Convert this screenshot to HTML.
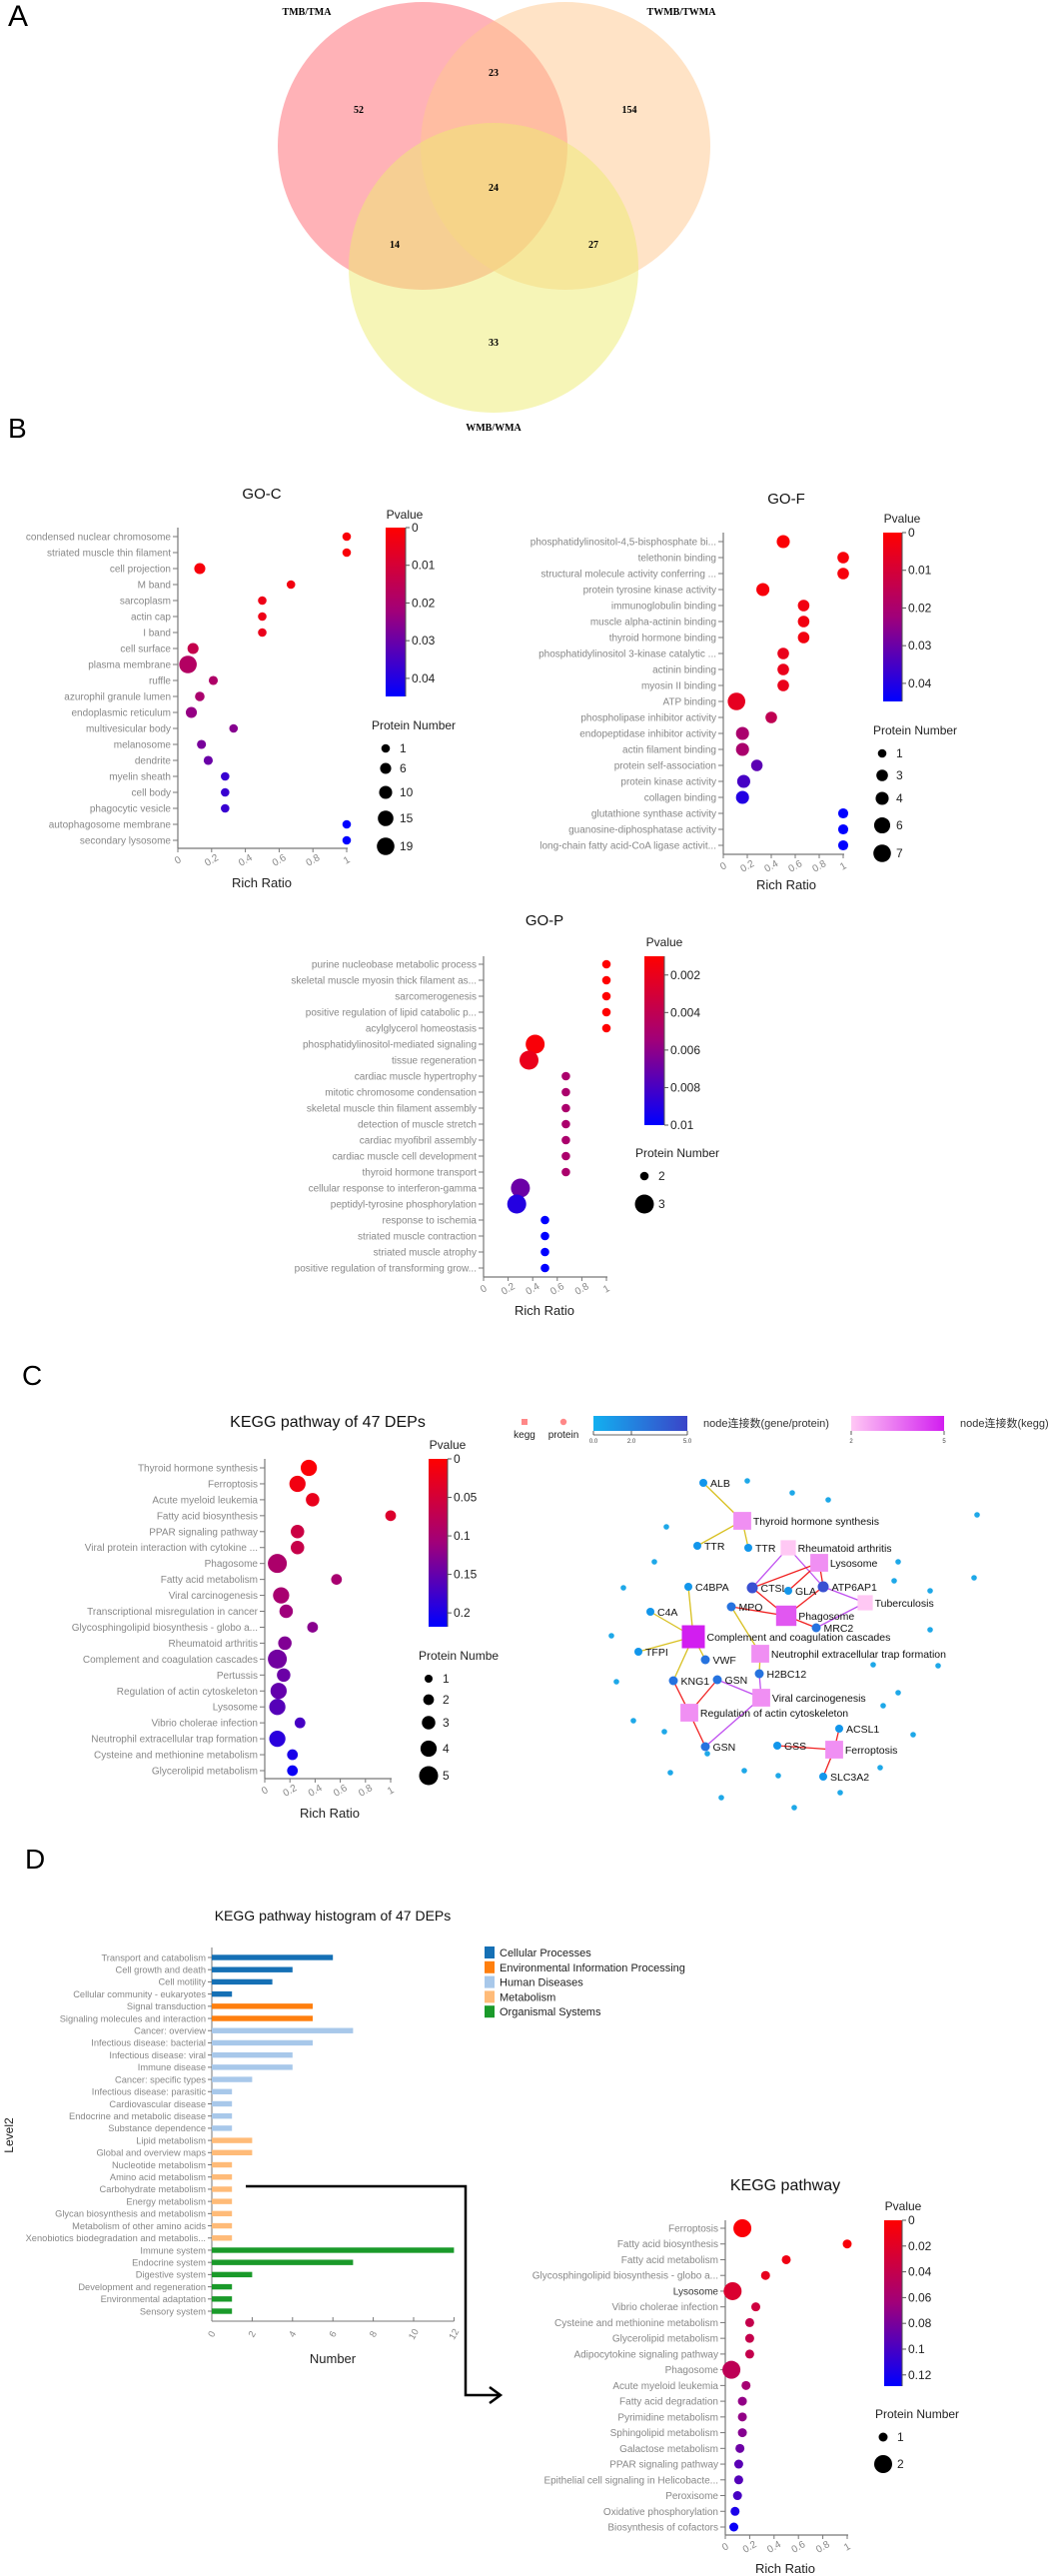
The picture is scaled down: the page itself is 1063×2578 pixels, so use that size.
<!DOCTYPE html>
<html><head><meta charset="utf-8">
<style>
html,body{margin:0;padding:0;background:#fff;}
svg{display:block;font-family:"Liberation Sans","Noto Sans CJK SC",sans-serif;}
</style></head>
<body>
<svg id="fig" width="1063" height="2578" viewBox="0 0 1063 2578" xmlns="http://www.w3.org/2000/svg">
<defs>
<linearGradient id="pgrad" x1="0" y1="0" x2="0" y2="1"><stop offset="0" stop-color="#ff0000"/><stop offset="0.5" stop-color="#a0007a"/><stop offset="1" stop-color="#0000ff"/></linearGradient>
<linearGradient id="ggrad" x1="0" y1="0" x2="1" y2="0"><stop offset="0" stop-color="#12b0f0"/><stop offset="1" stop-color="#3a44c8"/></linearGradient>
<linearGradient id="kgrad" x1="0" y1="0" x2="1" y2="0"><stop offset="0" stop-color="#ffc8f4"/><stop offset="1" stop-color="#d21ef0"/></linearGradient>
</defs>
<!-- Panel A Venn -->
<g>
<text x="8" y="26" font-size="30">A</text>
<ellipse cx="423" cy="146" rx="145" ry="144" fill="#ff6670" fill-opacity="0.5"/>
<ellipse cx="566" cy="146" rx="145" ry="144" fill="#ffc88e" fill-opacity="0.5"/>
<ellipse cx="494" cy="268" rx="145" ry="145" fill="#eeec70" fill-opacity="0.5"/>
<g font-family="Liberation Serif,serif" font-weight="bold" font-size="10" text-anchor="middle">
<text x="307" y="15">TMB/TMA</text>
<text x="682" y="15">TWMB/TWMA</text>
<text x="494" y="431">WMB/WMA</text>
<text x="494" y="76">23</text>
<text x="359" y="113">52</text>
<text x="630" y="113">154</text>
<text x="494" y="191">24</text>
<text x="395" y="248">14</text>
<text x="594" y="248">27</text>
<text x="494" y="346">33</text>
</g>
</g>
<text x="8" y="438" font-size="28">B</text>
<text x="22" y="1386" font-size="28">C</text>
<text x="25" y="1870" font-size="28">D</text>
<g id="plots"></g>
</svg>
<script>
// ---------- GO-C data ----------
const gocTerms=["condensed nuclear chromosome","striated muscle thin filament","cell projection","M band","sarcoplasm","actin cap","I band","cell surface","plasma membrane","ruffle","azurophil granule lumen","endoplasmic reticulum","multivesicular body","melanosome","dendrite","myelin sheath","cell body","phagocytic vesicle","autophagosome membrane","secondary lysosome"];
const gocRatio=[1,1,0.13,0.67,0.5,0.5,0.5,0.09,0.06,0.21,0.13,0.08,0.33,0.14,0.18,0.28,0.28,0.28,1,1];
const gocP=[0.0015,0.0015,0.002,0.003,0.004,0.004,0.005,0.014,0.018,0.019,0.02,0.024,0.026,0.028,0.03,0.037,0.037,0.037,0.045,0.045];
const gocN=[1,1,6,1,1,1,1,6,19,2,3,6,1,2,2,1,1,1,1,1];
const gocPTicks=[0,0.01,0.02,0.03,0.04];
const gocNLegend=[1,6,10,15,19];
// ---------- GO-F data ----------
const gofTerms=["phosphatidylinositol-4,5-bisphosphate bi...","telethonin binding","structural molecule activity conferring ...","protein tyrosine kinase activity","immunoglobulin binding","muscle alpha-actinin binding","thyroid hormone binding","phosphatidylinositol 3-kinase catalytic ...","actinin binding","myosin II binding","ATP binding","phospholipase inhibitor activity","endopeptidase inhibitor activity","actin filament binding","protein self-association","protein kinase activity","collagen binding","glutathione synthase activity","guanosine-diphosphatase activity","long-chain fatty acid-CoA ligase activit..."];
const gofRatio=[0.5,1,1,0.33,0.67,0.67,0.67,0.5,0.5,0.5,0.11,0.4,0.16,0.16,0.28,0.17,0.16,1,1,1];
const gofP=[0.001,0.002,0.002,0.002,0.003,0.003,0.003,0.005,0.005,0.005,0.006,0.015,0.02,0.02,0.032,0.035,0.04,0.045,0.045,0.045];
const gofN=[4,3,3,4,3,3,3,3,3,3,7,3,4,4,3,4,4,2,2,2];
const gofPTicks=[0,0.01,0.02,0.03,0.04];
const gofNLegend=[1,3,4,6,7];
// ---------- GO-P data ----------
const gopTerms=["purine nucleobase metabolic process","skeletal muscle myosin thick filament as...","sarcomerogenesis","positive regulation of lipid catabolic p...","acylglycerol homeostasis","phosphatidylinositol-mediated signaling","tissue regeneration","cardiac muscle hypertrophy","mitotic chromosome condensation","skeletal muscle thin filament assembly","detection of muscle stretch","cardiac myofibril assembly","cardiac muscle cell development","thyroid hormone transport","cellular response to interferon-gamma","peptidyl-tyrosine phosphorylation","response to ischemia","striated muscle contraction","striated muscle atrophy","positive regulation of transforming grow..."];
const gopRatio=[1,1,1,1,1,0.42,0.37,0.67,0.67,0.67,0.67,0.67,0.67,0.67,0.3,0.27,0.5,0.5,0.5,0.5];
const gopP=[0.001,0.001,0.001,0.001,0.001,0.0013,0.002,0.005,0.005,0.005,0.005,0.005,0.005,0.005,0.007,0.009,0.01,0.01,0.01,0.01];
const gopN=[2,2,2,2,2,3,3,2,2,2,2,2,2,2,3,3,2,2,2,2];
const gopPTicks=[0.002,0.004,0.006,0.008,0.01];
const gopNLegend=[2,3];
// ---------- KEGG C data ----------
const kcTerms=["Thyroid hormone synthesis","Ferroptosis","Acute myeloid leukemia","Fatty acid biosynthesis","PPAR signaling pathway","Viral protein interaction with cytokine ...","Phagosome","Fatty acid metabolism","Viral carcinogenesis","Transcriptional misregulation in cancer","Glycosphingolipid biosynthesis - globo a...","Rheumatoid arthritis","Complement and coagulation cascades","Pertussis","Regulation of actin cytoskeleton","Lysosome","Vibrio cholerae infection","Neutrophil extracellular trap formation","Cysteine and methionine metabolism","Glycerolipid metabolism"];
const kcRatio=[0.35,0.26,0.38,1,0.26,0.26,0.1,0.57,0.13,0.17,0.38,0.16,0.1,0.15,0.11,0.1,0.28,0.1,0.22,0.22];
const kcP=[0.005,0.015,0.025,0.04,0.06,0.065,0.095,0.1,0.1,0.11,0.125,0.13,0.14,0.145,0.15,0.16,0.17,0.19,0.2,0.21];
const kcN=[4,4,3,2,3,3,5,2,4,3,2,3,5,3,4,4,2,4,2,2];
const kcPTicks=[0,0.05,0.1,0.15,0.2];
const kcNLegend=[1,2,3,4,5];
// ---------- KEGG D data ----------
const kdTerms=["Ferroptosis","Fatty acid biosynthesis","Fatty acid metabolism","Glycosphingolipid biosynthesis - globo a...","Lysosome","Vibrio cholerae infection","Cysteine and methionine metabolism","Glycerolipid metabolism","Adipocytokine signaling pathway","Phagosome","Acute myeloid leukemia","Fatty acid degradation","Pyrimidine metabolism","Sphingolipid metabolism","Galactose metabolism","PPAR signaling pathway","Epithelial cell signaling in Helicobacte...","Peroxisome","Oxidative phosphorylation","Biosynthesis of cofactors"];
const kdRatio=[0.14,1,0.5,0.33,0.06,0.25,0.2,0.2,0.2,0.05,0.17,0.14,0.14,0.14,0.12,0.11,0.11,0.1,0.08,0.07];
const kdP=[0.003,0.005,0.01,0.016,0.025,0.033,0.04,0.04,0.04,0.045,0.06,0.07,0.07,0.075,0.085,0.093,0.095,0.1,0.118,0.125];
const kdN=[2,1,1,1,2,1,1,1,1,2,1,1,1,1,1,1,1,1,1,1];
const kdPTicks=[0,0.02,0.04,0.06,0.08,0.1,0.12];
const kdNLegend=[1,2];
// ---------- Histogram data ----------
const histCats=["Transport and catabolism","Cell growth and death","Cell motility","Cellular community - eukaryotes","Signal transduction","Signaling molecules and interaction","Cancer: overview","Infectious disease: bacterial","Infectious disease: viral","Immune disease","Cancer: specific types","Infectious disease: parasitic","Cardiovascular disease","Endocrine and metabolic disease","Substance dependence","Lipid metabolism","Global and overview maps","Nucleotide metabolism","Amino acid metabolism","Carbohydrate metabolism","Energy metabolism","Glycan biosynthesis and metabolism","Metabolism of other amino acids","Xenobiotics biodegradation and metabolis...","Immune system","Endocrine system","Digestive system","Development and regeneration","Environmental adaptation","Sensory system"];
const histVals=[6,4,3,1,5,5,7,5,4,4,2,1,1,1,1,2,2,1,1,1,1,1,1,1,12,7,2,1,1,1];
const histGroup=[0,0,0,0,1,1,2,2,2,2,2,2,2,2,2,3,3,3,3,3,3,3,3,3,4,4,4,4,4,4];
const histGroupNames=["Cellular Processes","Environmental Information Processing","Human Diseases","Metabolism","Organismal Systems"];
const histTicks=[0,2,4,6,8,10,12];

const NS="http://www.w3.org/2000/svg";
const root=document.getElementById('plots');
function mk(tag,attrs,parent,text){const e=document.createElementNS(NS,tag);for(const k in attrs)e.setAttribute(k,attrs[k]);if(text!==undefined)e.textContent=text;(parent||root).appendChild(e);return e;}
function pcol(t){t=Math.max(0,Math.min(1,t));let r,g=0,b;if(t<0.5){const u=t/0.5;r=255-(255-160)*u;b=122*u;}else{const u=(t-0.5)/0.5;r=160*(1-u);b=122+(255-122)*u;}return `rgb(${Math.round(r)},${g},${Math.round(b)})`;}

function dotPlot(o){
  const g=mk('g',{});
  
  
  const nr=o.terms.length;
  const xs=v=>o.x0+(o.x1-o.x0)*v;
  const ys=i=>o.yFirst+(o.yLast-o.yFirst)*i/(nr-1);
  const rs=n=>o.rMin+(o.rMax-o.rMin)*(n-o.nMin)/(o.nMax-o.nMin);
  const pc=p=>pcol((p-o.pMin)/(o.pMax-o.pMin));
  if(o.title){const t=mk('text',{x:o.titleX,y:o.titleY,'font-size':o.titleSize||15,'text-anchor':'middle',fill:'#111'},g,o.title);
    }
  const ax=mk('line',{x1:o.x0,y1:o.axTop,x2:o.x0,y2:o.axBot,stroke:'#777','stroke-width':1.2},g);
  
  const axx=mk('line',{x1:o.x0,y1:o.axBot,x2:xs(1)+1,y2:o.axBot,stroke:'#777','stroke-width':1.2},g);
  
  for(let v=0;v<=1.0001;v+=0.2){
    const x=xs(v);
    mk('line',{x1:x,y1:o.axBot,x2:x,y2:o.axBot+4,stroke:'#777'},g);
    const lab=(Math.round(v*10)/10).toString();
    const t=mk('text',{x:x,y:o.axBot+15,'font-size':10,fill:'#888','text-anchor':'middle',transform:`rotate(-30 ${x} ${o.axBot+12})`},g,lab);
    
  }
  const rr=mk('text',{x:o.rrX,y:o.rrY,'font-size':13,'text-anchor':'middle',fill:'#222'},g,'Rich Ratio');
  
  o.terms.forEach((term,i)=>{
    const y=ys(i);
    mk('line',{x1:o.x0-5,y1:y,x2:o.x0,y2:y,stroke:'#777'},g);
    const t=mk('text',{x:o.x0-7,y:y+3.5,'font-size':o.lf||10,'text-anchor':'end',fill:o.dark&&o.dark.includes(i)?'#333':'#888'},g,term);
    
    const c=mk('circle',{cx:xs(o.ratio[i]),cy:y,r:rs(o.n[i]),fill:pc(o.p[i])},g);
    
  });
  // colorbar
  const pv=mk('text',{x:o.pvX,y:o.pvY,'font-size':12,'text-anchor':'middle',fill:'#222'},g,'Pvalue');
  
  const cb=mk('rect',{x:o.cbX,y:o.cbTop,width:o.cbW,height:o.cbBot-o.cbTop,fill:'url(#pgrad)'},g);
  
  mk('line',{x1:o.cbX+o.cbW,y1:o.cbTop,x2:o.cbX+o.cbW,y2:o.cbBot,stroke:'#555'},g);
  o.pTicks.forEach(p=>{
    const y=o.cbTop+(o.cbBot-o.cbTop)*(p-o.pMin)/(o.pMax-o.pMin);
    mk('line',{x1:o.cbX+o.cbW,y1:y,x2:o.cbX+o.cbW+4,y2:y,stroke:'#555'},g);
    const t=mk('text',{x:o.cbX+o.cbW+6,y:y+4,'font-size':12,fill:'#222'},g,p.toString());
    
  });
  const pn=mk('text',{x:o.pnX,y:o.pnY,'font-size':12,fill:'#222'},g,o.pnText||'Protein Number');
  
  o.legVals.forEach((v,i)=>{
    const y=o.legYs[i];
    const c=mk('circle',{cx:o.legX,cy:y,r:rs(v),fill:'#000'},g);
    
    const t=mk('text',{x:o.legX+14,y:y+4,'font-size':12,fill:'#222'},g,v.toString());
    
  });
}

dotPlot({name:'go-c-chart',terms:gocTerms,ratio:gocRatio,p:gocP,n:gocN,x0:178,x1:347,yFirst:537,yLast:841,axTop:528,axBot:849,
  pMin:0,pMax:0.0448,pTicks:gocPTicks,cbX:386,cbW:20,cbTop:528,cbBot:697,title:'GO-C',titleX:262,titleY:499,pvX:405,pvY:519,
  pnX:372,pnY:730,legVals:gocNLegend,legYs:[749,769,793,819,847],legX:386,rMin:4.3,rMax:8.8,nMin:1,nMax:19,rrX:262,rrY:888});
dotPlot({name:'go-f-chart',terms:gofTerms,ratio:gofRatio,p:gofP,n:gofN,x0:724,x1:844,yFirst:542,yLast:846,axTop:533,axBot:855,
  pMin:0,pMax:0.0448,pTicks:gofPTicks,cbX:884,cbW:19,cbTop:533,cbBot:702,title:'GO-F',titleX:787,titleY:504,pvX:903,pvY:523,
  pnX:874,pnY:735,legVals:gofNLegend,legYs:[754,776,799,826,854],legX:883,rMin:4.3,rMax:8.8,nMin:1,nMax:7,rrX:787,rrY:890});
dotPlot({name:'go-p-chart',terms:gopTerms,ratio:gopRatio,p:gopP,n:gopN,x0:484,x1:607,yFirst:965,yLast:1269,axTop:957,axBot:1278,
  pMin:0.001,pMax:0.01,pTicks:gopPTicks,cbX:645,cbW:20,cbTop:957,cbBot:1126,title:'GO-P',titleX:545,titleY:926,pvX:665,pvY:947,
  pnX:636,pnY:1158,legVals:gopNLegend,legYs:[1177,1205],legX:645,rMin:4.3,rMax:9.5,nMin:2,nMax:3,rrX:545,rrY:1316});
dotPlot({name:'kegg-c-chart',terms:kcTerms,ratio:kcRatio,p:kcP,n:kcN,x0:265,x1:391,yFirst:1469,yLast:1772,axTop:1460,axBot:1780,
  pMin:0,pMax:0.218,pTicks:kcPTicks,cbX:429,cbW:19,cbTop:1460,cbBot:1628,title:'KEGG pathway of 47 DEPs',titleX:328,titleY:1428,titleSize:16,pvX:448,pvY:1450,
  pnX:419,pnY:1661,pnText:'Protein Numbe',legVals:kcNLegend,legYs:[1680,1701,1724,1750,1777],legX:429,rMin:4,rMax:9.5,nMin:1,nMax:5,rrX:330,rrY:1819});
dotPlot({name:'kegg-d-chart',terms:kdTerms,ratio:kdRatio,p:kdP,n:kdN,x0:726,x1:848,yFirst:2230,yLast:2529,axTop:2222,axBot:2537,lf:10,dark:[4],
  pMin:0,pMax:0.1287,pTicks:kdPTicks,cbX:885,cbW:18,cbTop:2222,cbBot:2388,title:'KEGG pathway',titleX:786,titleY:2192,titleSize:16,pvX:904,pvY:2212,
  pnX:876,pnY:2420,legVals:kdNLegend,legYs:[2439,2466],legX:884,rMin:4.5,rMax:9,nMin:1,nMax:2,rrX:786,rrY:2575});

// ---------- Histogram ----------
(function(){
  const g=mk('g',{});
  
  
  const cols=['#1570b5','#ff7f0e','#a8c8ea','#ffbb78','#1a9a2a'];
  const x0=212, unit=20.2, yF=1959, yL=2313, axBot=2323, axTop=1949;
  const xs=v=>x0+v*unit; const ys=i=>yF+(yL-yF)*i/(histCats.length-1);
  const t=mk('text',{x:333,y:1922,'font-size':14,'text-anchor':'middle',fill:'#111'},g,'KEGG pathway histogram of 47 DEPs');
  
  mk('line',{x1:x0,y1:axTop,x2:x0,y2:axBot,stroke:'#777'},g);
  mk('line',{x1:x0,y1:axBot,x2:xs(12),y2:axBot,stroke:'#777'},g);
  histCats.forEach((c,i)=>{
    const y=ys(i);
    mk('line',{x1:x0-4,y1:y,x2:x0,y2:y,stroke:'#777'},g);
    const l=mk('text',{x:x0-6,y:y+3.3,'font-size':9.3,'text-anchor':'end',fill:'#888'},g,c);
    
    const b=mk('rect',{x:x0,y:y-2.7,width:xs(histVals[i])-x0,height:5.4,fill:cols[histGroup[i]]},g);
    
  });
  histTicks.forEach(v=>{
    const x=xs(v);
    mk('line',{x1:x,y1:axBot,x2:x,y2:axBot-4,stroke:'#777'},g);
    const l=mk('text',{x:x,y:axBot+16,'font-size':9.5,'text-anchor':'middle',fill:'#888',transform:`rotate(-60 ${x} ${axBot+13})`},g,v.toString());
    
  });
  const nl=mk('text',{x:333,y:2365,'font-size':13,'text-anchor':'middle',fill:'#222'},g,'Number');
  
  const lv=mk('text',{x:13,y:2137,'font-size':12,'text-anchor':'middle',fill:'#222',transform:'rotate(-90 13 2137)'},g,'Level2');
  
  histGroupNames.forEach((n,i)=>{
    const y=1954+i*14.8;
    const r=mk('rect',{x:485,y:y-6,width:10,height:12,fill:cols[i]},g);
    
    const l=mk('text',{x:500,y:y+4,'font-size':11,fill:'#222'},g,n);
    
  });
  const arr=mk('path',{d:'M246 2188 H466 V2397 H500 M490 2389 L501 2397 L490 2405',fill:'none',stroke:'#000','stroke-width':2.5},g);
  
})();

// ---------- Network ----------
const netNodes=["ALB","TTR","TTR2","C4BPA","CTSL","GLA","ATP6AP1","MPO","MRC2","C4A","TFPI","VWF","H2BC12","KNG1","GSN","GSN2","GSS","ACSL1","SLC3A2"];
const netNodeX=[704,698,749,689,753,789,824,732,817,651,639,706,760,674,718,706,778,840,824];
const netNodeY=[1484,1547,1549,1588,1589,1592,1588,1608,1629,1613,1653,1661,1675,1682,1681,1748,1747,1730,1778];
const netNodeLabel=["ALB","TTR","TTR","C4BPA","CTSL","GLA","ATP6AP1","MPO","MRC2","C4A","TFPI","VWF","H2BC12","KNG1","GSN","GSN","GSS","ACSL1","SLC3A2"];
const netNodeDeg=[1,1,1,1,3,1,3,2,2,1,1,2,2,2,2,2,1,1,1];
const netPath=["Thyroid hormone synthesis","Rheumatoid arthritis","Lysosome","Tuberculosis","Phagosome","Complement and coagulation cascades","Neutrophil extracellular trap formation","Viral carcinogenesis","Regulation of actin cytoskeleton","Ferroptosis"];
const netPathX=[743,789,820,866,787,694,761,762,690,835];
const netPathY=[1522,1549,1564,1604,1617,1638,1655,1699,1714,1751];
const netPathDeg=[3,2,3,2,4,5,3,3,3,3];
const netEdgeFrom=[0,0,0,1,1,2,2,2,4,4,4,4,3,3,5,5,5,5,5,6,6,7,7,7,8,8,8,9,9,9];
const netEdgeTo=[0,1,2,4,6,4,5,6,4,6,7,8,6,8,3,9,10,11,13,7,12,12,14,15,13,14,15,16,17,18];
const netEdgeColor=["#d8c020","#d8c020","#d8c020","#c050f0","#c050f0","#f02020","#f02020","#f02020","#f02020","#f02020","#f02020","#f02020","#c050f0","#c050f0","#d8c020","#d8c020","#d8c020","#d8c020","#d8c020","#d8c020","#d8c020","#c050f0","#c050f0","#c050f0","#f02020","#f02020","#f02020","#f02020","#f02020","#f02020"];
const netIsoX=[748,793,829,978,667,899,655,624,895,975,931,612,931,874,939,617,899,884,634,665,914,708,881,671,745,779,722,841,795];
const netIsoY=[1482,1494,1501,1516,1528,1563,1563,1589,1582,1579,1592,1637,1631,1666,1667,1683,1694,1707,1722,1733,1736,1755,1769,1774,1772,1777,1799,1794,1809];
(function(){
  const g=mk('g',{});
  
  
  // legend
  const ks=mk('rect',{x:522,y:1420,width:6,height:6,fill:'#f88'},g);
  
  const pc=mk('circle',{cx:564,cy:1423,r:3.2,fill:'#f88'},g);
  
  const kt=mk('text',{x:525,y:1439,'font-size':10,'text-anchor':'middle',fill:'#222'},g,'kegg');
  
  const pt=mk('text',{x:564,y:1439,'font-size':10,'text-anchor':'middle',fill:'#222'},g,'protein');
  
  const gb=mk('rect',{x:594,y:1417,width:94,height:15,fill:'url(#ggrad)'},g);
  
  mk('path',{d:'M594 1432 v4 M632 1432 v4 M688 1432 v4 M594 1436 H688',stroke:'#333','stroke-width':0.8,fill:'none'},g);
  [['0.0',594],['2.0',632],['5.0',688]].forEach(a=>{const t=mk('text',{x:a[1],y:1444,'font-size':6,'text-anchor':'middle',fill:'#444'},g,a[0]);});
  const gl=mk('text',{x:704,y:1428,'font-size':11,fill:'#333'},g,'node连接数(gene/protein)');
  
  const kb=mk('rect',{x:852,y:1417,width:93,height:15,fill:'url(#kgrad)'},g);
  
  mk('path',{d:'M852 1432 v4 M945 1432 v4',stroke:'#333','stroke-width':0.8,fill:'none'},g);
  [['2',852],['5',945]].forEach(a=>{const t=mk('text',{x:a[1],y:1444,'font-size':6,'text-anchor':'middle',fill:'#444'},g,a[0]);});
  const kl=mk('text',{x:961,y:1428,'font-size':11,fill:'#333'},g,'node连接数(kegg)');
  
  // isolated nodes
  netIsoX.forEach((x,i)=>{const c=mk('circle',{cx:x,cy:netIsoY[i],r:2.8,fill:'#1ea8e8'},g);});
  // edges
  netEdgeFrom.forEach((f,i)=>{const t=netEdgeTo[i];const l=mk('line',{x1:netPathX[f],y1:netPathY[f],x2:netNodeX[t],y2:netNodeY[t],stroke:netEdgeColor[i],'stroke-width':1.3},g);});
  const kc=d=>{const t=(d-2)/3;const r=Math.round(255-(255-210)*t),gg=Math.round(200-(200-30)*t),b=Math.round(244-(244-240)*t);return `rgb(${r},${gg},${b})`;};
  const gc=d=>{const t=Math.min(1,(d-1)/2);const r=Math.round(18+(58-18)*t),gg=Math.round(150-(150-80)*t),b=Math.round(235-(235-210)*t);return `rgb(${r},${gg},${b})`;};
  netPath.forEach((n,i)=>{
    const s=10+netPathDeg[i]*2.6;
    const r=mk('rect',{x:netPathX[i]-s/2,y:netPathY[i]-s/2,width:s,height:s,fill:kc(netPathDeg[i])},g);
    
    const t=mk('text',{x:netPathX[i]+s/2+2,y:netPathY[i]+4,'font-size':10.5,fill:'#111'},g,n);
    
  });
  netNodes.forEach((n,i)=>{
    const r=netNodeDeg[i]>=3?5.5:(netNodeDeg[i]==2?4.5:4);
    const c=mk('circle',{cx:netNodeX[i],cy:netNodeY[i],r:r,fill:gc(netNodeDeg[i])},g);
    
    const t=mk('text',{x:netNodeX[i]+r+3,y:netNodeY[i]+4,'font-size':10.5,fill:'#111'},g,netNodeLabel[i]);
    
  });
})();
</script>
</body></html>
